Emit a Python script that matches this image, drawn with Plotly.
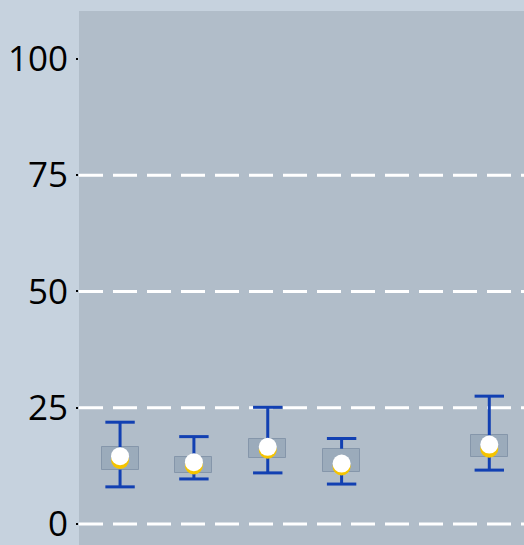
import plotly.graph_objects as go

categories = ["A", "B", "C", "D", "E", "F"]
whisker_low = [8.0, 9.7, 11.0, 8.6, None, 11.6]
whisker_high = [21.9, 18.8, 25.1, 18.4, None, 27.5]
box_q1 = [11.7, 10.9, 14.3, 11.2, None, 14.5]
box_q3 = [16.5, 14.4, 18.3, 16.2, None, 19.1]
yellow_vals = [13.8, 12.6, 16.0, 12.4, None, 16.2]
white_vals = [14.6, 13.3, 16.6, 13.0, None, 17.1]
y_ticks = [0, 25, 50, 75, 100]
grid_vals = [0, 25, 50, 75]

BLUE = "#1240b2"

fig = go.Figure()

# boxes
fig.add_trace(go.Bar(
    x=categories,
    base=box_q1,
    y=[(q3 - q1) if q1 is not None else None for q1, q3 in zip(box_q1, box_q3)],
    width=0.5,
    marker=dict(color="rgba(140,158,178,0.6)", line=dict(color="rgba(120,138,160,0.7)", width=1)),
    hoverinfo="skip",
))

# whisker stems (outside the box)
sx, sy = [], []
for c, lo, q1, q3, hi in zip(categories, whisker_low, box_q1, box_q3, whisker_high):
    if lo is None:
        continue
    sx += [c, c, None, c, c, None]
    sy += [q3, hi, None, lo, q1, None]
fig.add_trace(go.Scatter(x=sx, y=sy, mode="lines", line=dict(color=BLUE, width=3),
                         hoverinfo="skip", connectgaps=False))

# caps
cx, cy = [], []
for c, lo, hi in zip(categories, whisker_low, whisker_high):
    if lo is None:
        continue
    cx += [c, c]
    cy += [lo, hi]
fig.add_trace(go.Scatter(x=cx, y=cy, mode="markers",
                         marker=dict(symbol="line-ew", size=21, line=dict(color=BLUE, width=3)),
                         hoverinfo="skip"))

fig.add_trace(go.Scatter(x=categories, y=yellow_vals, mode="markers",
                         marker=dict(color="#f5c400", size=18, line=dict(width=0))))
fig.add_trace(go.Scatter(x=categories, y=white_vals, mode="markers",
                         marker=dict(color="#ffffff", size=18, line=dict(width=0))))

for g in grid_vals:
    fig.add_shape(type="line", xref="paper", yref="y", x0=0, x1=1, y0=g, y1=g,
                  line=dict(color="white", width=3, dash="24px,10px"), layer="below")

fig.update_layout(
    width=524, height=545,
    margin=dict(l=79, r=0, t=11, b=0),
    paper_bgcolor="#c6d2de",
    plot_bgcolor="#b1bdc9",
    showlegend=False,
    bargap=0,
    font=dict(family="Open Sans", color="black"),
)
fig.update_xaxes(type="category", range=[-0.556, 5.47], showgrid=False, showticklabels=False,
                 ticks="", zeroline=False, showline=False)
fig.update_yaxes(range=[-4.5, 110.3], tickvals=y_ticks, showgrid=False, zeroline=False,
                 ticks="outside", ticklen=2, tickwidth=2, tickcolor="black",
                 tickfont=dict(size=35, family="Open Sans", color="black"),
                 ticklabelstandoff=1, ticklabeloverflow="allow", showline=False)

fig.write_html("out.html", config={"displayModeBar": False},
               post_script="document.body.style.margin='0';document.body.style.overflow='hidden';")
